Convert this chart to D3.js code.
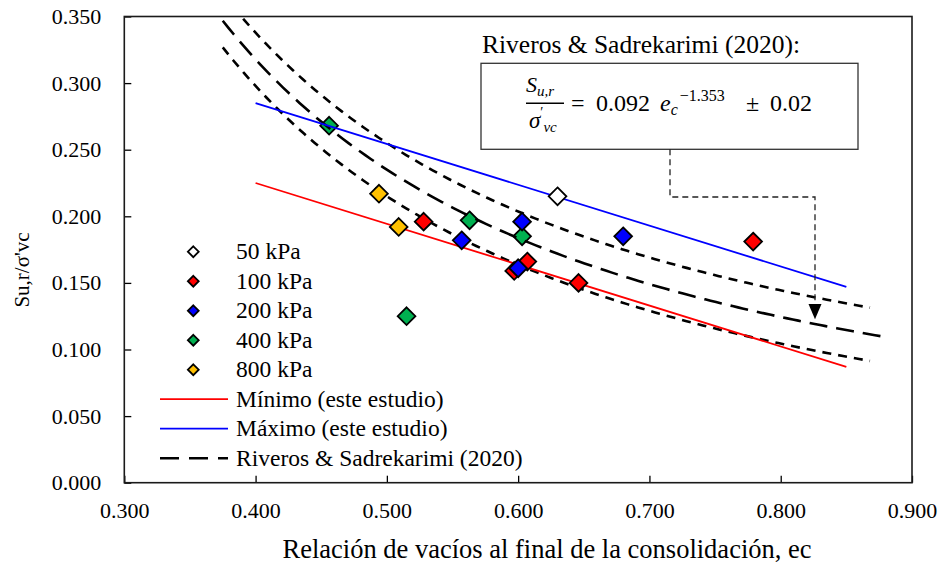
<!DOCTYPE html>
<html>
<head>
<meta charset="utf-8">
<script src="https://cdn.jsdelivr.net/npm/d3@7"></script>
<style>
  body { margin: 0; background: #fff; }
  svg text { font-family: "Liberation Serif", "Times New Roman", Times, "DejaVu Serif", serif; fill: #000; }
</style>
</head>
<body>
<svg id="chart" width="940" height="564"></svg>
<script>
// Axis ticks
const xTicks = [0.3, 0.4, 0.5, 0.6, 0.7, 0.8, 0.9];
const yTicks = [0, 0.05, 0.1, 0.15, 0.2, 0.25, 0.3, 0.35];

// Test series: void ratio after consolidation (ec) and Su,r/σ'vc
const seriesNames = ["50 kPa", "100 kPa", "200 kPa", "400 kPa", "800 kPa"];
const seriesColors = ["#ffffff", "#ff0000", "#0000ff", "#00b050", "#ffc000"];
const ec50 = [0.630];
const su50 = [0.215];
const ec100 = [0.528, 0.597, 0.607, 0.646, 0.779];
const su100 = [0.196, 0.159, 0.166, 0.150, 0.181];
const ec200 = [0.557, 0.600, 0.603, 0.680];
const su200 = [0.182, 0.161, 0.196, 0.185];
const ec400 = [0.456, 0.515, 0.563, 0.603];
const su400 = [0.268, 0.125, 0.197, 0.185];
const ec800 = [0.494, 0.509];
const su800 = [0.217, 0.192];

// Bounds of this study
const ecBounds = [0.40, 0.85];
const suMin = [0.225, 0.087];
const suMax = [0.285, 0.147];

// Riveros & Sadrekarimi (2020): Su,r/σ'vc = 0.092 ec^-1.353 ± 0.02
const rsCoef = 0.092;
const rsExp = -1.353;
const rsBand = 0.02;
const rsCenterRange = [0.375, 0.876];
const rsBandRange = [0.375, 0.868];

const SERIF = '"Liberation Serif", "Times New Roman", Times, "DejaVu Serif", serif';

const svg = d3.select("#chart");
const x = d3.scaleLinear().domain([0.3, 0.9]).range([124.3, 912]);
const y = d3.scaleLinear().domain([0, 0.35]).range([482.7, 16.5]);
const fmt = d3.format(".3f");

svg.append("defs").append("clipPath").attr("id", "plot-clip")
  .append("rect")
  .attr("x", x(0.3)).attr("y", y(0.35))
  .attr("width", x(0.9) - x(0.3)).attr("height", y(0) - y(0.35));

// Axes with inward ticks
const xAxis = svg.append("g")
  .attr("transform", `translate(0,${y(0)})`)
  .call(d3.axisBottom(x).tickValues(xTicks).tickFormat(fmt).tickSizeInner(-7).tickSizeOuter(0).tickPadding(20));
const yAxis = svg.append("g")
  .attr("transform", `translate(${x(0.3)},0)`)
  .call(d3.axisLeft(y).tickValues(yTicks).tickFormat(fmt).tickSizeInner(-7).tickSizeOuter(0).tickPadding(23));
[xAxis, yAxis].forEach(g => {
  g.attr("font-family", null).attr("font-size", null);
  g.selectAll("text").style("font-family", SERIF).style("font-size", "22px").attr("fill", "#000");
  g.selectAll("line").attr("stroke", "#000").attr("stroke-width", 1.3);
  g.select(".domain").remove();
});

// Plot frame
svg.append("rect")
  .attr("x", x(0.3)).attr("y", y(0.35))
  .attr("width", x(0.9) - x(0.3)).attr("height", y(0) - y(0.35))
  .attr("fill", "none").attr("stroke", "#1a1a1a").attr("stroke-width", 1.6);

function txt(parent, px, py, size, content) {
  return parent.append("text").attr("x", px).attr("y", py)
    .style("font-family", SERIF).style("font-size", size + "px").text(content);
}

// Axis titles
txt(svg, 547, 558, 26.5, "Relación de vacíos al final de la consolidación, ec").attr("text-anchor", "middle");
svg.append("text")
  .attr("transform", "translate(29,270) rotate(-90)")
  .attr("text-anchor", "middle")
  .style("font-family", SERIF).style("font-size", "21px")
  .text("Su,r/σ'vc");

const plot = svg.append("g").attr("clip-path", "url(#plot-clip)");

const diamond = d3.symbol().type(d3.symbolDiamond2);
function drawSeries(ec, su, color) {
  plot.append("g").selectAll("path")
    .data(ec.map((e, i) => [e, su[i]]))
    .join("path")
    .attr("d", diamond.size(200))
    .attr("transform", d => `translate(${x(d[0])},${y(d[1])})`)
    .attr("fill", color).attr("stroke", "#000").attr("stroke-width", 1.8);
}

// 400 kPa points sit beneath the trend lines
drawSeries(ec400, su400, seriesColors[3]);

// Riveros & Sadrekarimi curves
const line = d3.line().x(d => x(d[0])).y(d => y(d[1]));
function rsCurve(range, offset) {
  const n = 120;
  return d3.range(n + 1).map(i => {
    const e = range[0] + (range[1] - range[0]) * i / n;
    return [e, rsCoef * Math.pow(e, rsExp) + offset];
  });
}
[rsBand, -rsBand].forEach(off => {
  plot.append("path").datum(rsCurve(rsBandRange, off))
    .attr("d", line).attr("fill", "none")
    .attr("stroke", "#000").attr("stroke-width", 2.6).attr("stroke-dasharray", "9,7");
});
plot.append("path").datum(rsCurve(rsCenterRange, 0))
  .attr("d", line).attr("fill", "none")
  .attr("stroke", "#000").attr("stroke-width", 2.6).attr("stroke-dasharray", "18,9");

// Minimum and maximum of this study
plot.append("path").datum(ecBounds.map((e, i) => [e, suMin[i]]))
  .attr("d", line).attr("fill", "none").attr("stroke", "#ff0000").attr("stroke-width", 1.8);
plot.append("path").datum(ecBounds.map((e, i) => [e, suMax[i]]))
  .attr("d", line).attr("fill", "none").attr("stroke", "#0000ff").attr("stroke-width", 1.8);

drawSeries(ec50, su50, seriesColors[0]);
drawSeries(ec100, su100, seriesColors[1]);
drawSeries(ec200, su200, seriesColors[2]);
drawSeries(ec800, su800, seriesColors[4]);

// Legend
const legend = svg.append("g");
const rowY = i => 251.7 + i * 29.5;
seriesNames.forEach((name, i) => {
  legend.append("path")
    .attr("d", diamond.size(75))
    .attr("transform", `translate(193.3,${rowY(i)})`)
    .attr("fill", seriesColors[i]).attr("stroke", "#000").attr("stroke-width", 1.8);
  txt(legend, 236, rowY(i) + 7.5, 23.5, name);
});
const lineItems = [
  { label: "Mínimo (este estudio)", color: "#ff0000", width: 1.8, dash: null },
  { label: "Máximo (este estudio)", color: "#0000ff", width: 1.8, dash: null },
  { label: "Riveros & Sadrekarimi (2020)", color: "#000", width: 2.6, dash: "19,10" }
];
lineItems.forEach((it, j) => {
  const yy = rowY(5 + j);
  legend.append("line").attr("x1", 160).attr("x2", 228).attr("y1", yy).attr("y2", yy)
    .attr("stroke", it.color).attr("stroke-width", it.width)
    .attr("stroke-dasharray", it.dash);
  txt(legend, 236, yy + 7.5, 23.5, it.label);
});

// Equation callout
const note = svg.append("g");
txt(note, 482, 53, 25.5, "Riveros & Sadrekarimi (2020):");
note.append("rect").attr("x", 481).attr("y", 63.3).attr("width", 377).attr("height", 86)
  .attr("fill", "#fff").attr("stroke", "#333").attr("stroke-width", 1.3);

// Fraction Su,r / σ'vc, set as a single text block
const frac = note.append("text")
  .style("font-family", SERIF).style("font-style", "italic");
frac.append("tspan").attr("x", 526).attr("y", 91.5).style("font-size", "22px").text("S");
frac.append("tspan").attr("dy", 4).style("font-size", "15px").text("u,r");
frac.append("tspan").attr("x", 529).attr("y", 128).style("font-size", "23px").text("σ");
frac.append("tspan").attr("dy", -11).style("font-size", "14px").style("font-style", "normal").text("′");
frac.append("tspan").attr("dx", 0).attr("dy", 15).style("font-size", "15px").text("vc");
note.append("line").attr("x1", 526).attr("x2", 564).attr("y1", 103.3).attr("y2", 103.3)
  .attr("stroke", "#000").attr("stroke-width", 1.4);
// right-hand side
txt(note, 571, 110.7, 24, "=");
txt(note, 596, 110.7, 24, "0.092");
const ev = txt(note, 660, 110.7, 24, "e").style("font-style", "italic");
ev.append("tspan").attr("dy", 4.5).style("font-size", "16px").text("c");
ev.append("tspan").attr("dx", 2).attr("dy", -14).style("font-size", "16px").style("font-style", "normal").text("−1.353");
txt(note, 746, 110.7, 24, "±");
txt(note, 770, 110.7, 24, "0.02");

// Dashed leader with arrow pointing to the curve
note.append("path").attr("d", "M670,149.3 V197 H815 V305")
  .attr("fill", "none").attr("stroke", "#222").attr("stroke-width", 1.3)
  .attr("stroke-dasharray", "6,4");
note.append("path").attr("d", "M808.5,304 L821.5,304 L815,319.3 Z").attr("fill", "#000");
</script>
</body>
</html>
